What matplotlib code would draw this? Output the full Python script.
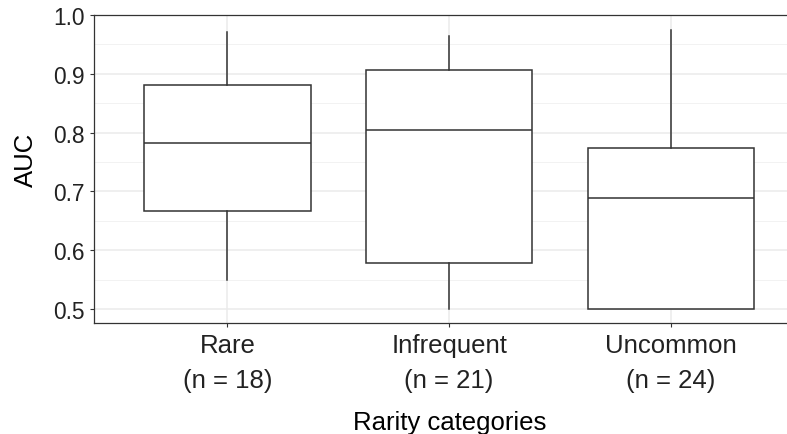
import matplotlib
matplotlib.use("Agg")
import matplotlib.pyplot as plt
from matplotlib.ticker import MultipleLocator

plt.rcParams['font.family'] = ['Liberation Sans', 'DejaVu Sans']

categories = ["Rare", "Infrequent", "Uncommon"]
counts = [18, 21, 24]
whisker_low = [0.549, 0.500, 0.500]
q1 = [0.667, 0.579, 0.500]
median = [0.782, 0.804, 0.688]
q3 = [0.881, 0.906, 0.774]
whisker_high = [0.971, 0.964, 0.975]
y_ticks = [0.5, 0.6, 0.7, 0.8, 0.9, 1.0]

fig = plt.figure(figsize=(7.87, 4.35), dpi=100)
ax = fig.add_axes([0.1198, 0.2559, 0.9018, 0.7074])

stats = []
for i, c in enumerate(categories):
    stats.append(dict(label=c, whislo=whisker_low[i], q1=q1[i], med=median[i],
                      q3=q3[i], whishi=whisker_high[i], fliers=[]))

edge = '#333333'
ax.bxp(stats, positions=[1, 2, 3], widths=0.75, showcaps=False, showfliers=False,
       patch_artist=True,
       boxprops=dict(facecolor='white', edgecolor=edge, linewidth=1.1),
       medianprops=dict(color=edge, linewidth=1.1),
       whiskerprops=dict(color=edge, linewidth=1.1), zorder=3)

ax.set_xlim(0.4, 3.6)
ax.set_ylim(0.4767, 1.0)
ax.set_yticks(y_ticks)
ax.set_yticklabels([f"{v:.1f}" for v in y_ticks])
ax.yaxis.set_minor_locator(MultipleLocator(0.05))
ax.set_xticks([1, 2, 3])
ax.set_xticklabels([f"{c}\n(n = {n})" for c, n in zip(categories, counts)],
                   linespacing=1.55)

ax.grid(True, which='major', color='#ebebeb', linewidth=1.1, zorder=0)
ax.grid(True, which='minor', axis='y', color='#f2f2f2', linewidth=0.7, zorder=0)
ax.set_axisbelow(True)

for s in ax.spines.values():
    s.set_color(edge)
    s.set_linewidth(0.9)
ax.spines['right'].set_visible(False)

ax.tick_params(axis='y', which='major', labelsize=16.4, colors=edge, length=3.2, width=0.8, pad=3.5, labelcolor='#222222')
ax.tick_params(axis='y', which='minor', length=0)
ax.tick_params(axis='x', labelsize=18.5, colors=edge, length=3.2, width=0.8, pad=4.5, labelcolor='#222222')

fig.text(26 / 787, 1 - 160 / 435, "AUC", rotation=90, ha='center', va='center', fontsize=18.5, color='black')
fig.text(450 / 787, 1 - 430 / 435, "Rarity categories", ha='center', va='baseline', fontsize=18.5, color='black')

fig.savefig("out.png", dpi=100)
